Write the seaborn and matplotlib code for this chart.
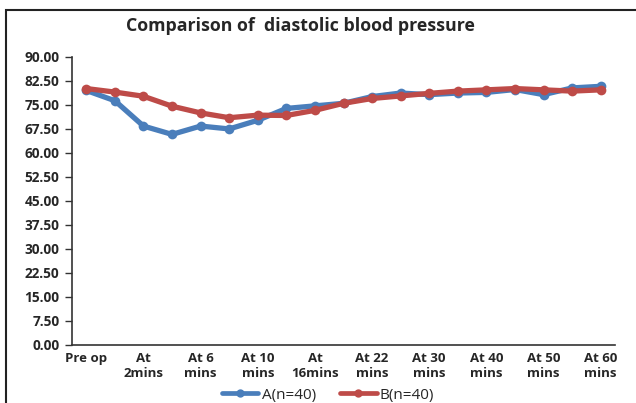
import matplotlib
matplotlib.use("Agg")
import matplotlib.pyplot as plt
import seaborn as sns
import pandas as pd
from matplotlib.patches import Rectangle
from matplotlib.lines import Line2D

categories = ["Pre op", "At 1min", "At 2mins", "At 4 mins", "At 6 mins", "At 8 mins",
              "At 10 mins", "At 13 mins", "At 16mins", "At 19 mins", "At 22 mins",
              "At 26 mins", "At 30 mins", "At 35 mins", "At 40 mins", "At 45 mins",
              "At 50 mins", "At 55 mins", "At 60 mins"]
tick_labels = ["Pre op", "", "At\n2mins", "", "At 6\nmins", "", "At 10\nmins", "",
               "At\n16mins", "", "At 22\nmins", "", "At 30\nmins", "", "At 40\nmins", "",
               "At 50\nmins", "", "At 60\nmins"]
group_a = [79.4, 76.2, 68.3, 65.7, 68.3, 67.4, 70.1, 73.8, 74.6, 75.4, 77.5, 78.6,
           78.1, 78.6, 78.8, 79.7, 78.1, 80.2, 80.7]
group_b = [80.0, 78.9, 77.6, 74.5, 72.4, 70.9, 71.7, 71.6, 73.2, 75.4, 76.9, 77.7,
           78.5, 79.2, 79.6, 80.0, 79.6, 79.2, 79.6]
series_names = ["A(n=40)", "B(n=40)"]
y_ticks = [0, 7.5, 15, 22.5, 30, 37.5, 45, 52.5, 60, 67.5, 75, 82.5, 90]

df = pd.DataFrame({
    "pos": list(range(len(categories))) * 2,
    "value": group_a + group_b,
    "group": [series_names[0]] * len(categories) + [series_names[1]] * len(categories),
})

sns.set_style("white")
plt.rcParams["font.family"] = ["Open Sans", "DejaVu Sans"]

fig = plt.figure(figsize=(6.36, 4.03), dpi=100)
ax = fig.add_axes([72 / 636, 1 - 345 / 403, (615 - 72) / 636, (345 - 56.5) / 403])

palette = {series_names[0]: "#4A7EBB", series_names[1]: "#BE4B48"}
sns.lineplot(data=df, x="pos", y="value", hue="group", palette=palette, ax=ax,
             marker="o", markersize=7, markeredgewidth=0, linewidth=3.8,
             legend=False)

ax.set_xlim(-0.5, len(categories) - 0.5)
ax.set_ylim(0, 90)
ax.set_yticks(y_ticks)
ax.set_yticklabels([f"{v:.2f}" for v in y_ticks], fontsize=9.8, fontweight="bold")
ax.set_xticks(range(len(categories)))
ax.set_xticklabels(tick_labels, fontsize=9.5, fontweight="bold", linespacing=1.25, va="top")
ax.set_xticks([i - 0.5 for i in range(len(categories) + 1)], minor=True)
ax.tick_params(axis="x", which="major", length=0, pad=5)
ax.tick_params(axis="x", which="minor", length=5, width=1, direction="out", color="#333333")
ax.tick_params(axis="y", which="major", length=5, width=1, direction="out", color="#333333", pad=4, left=True)
ax.set_xlabel("")
ax.set_ylabel("")
for s in ["top", "right"]:
    ax.spines[s].set_visible(False)
for s in ["left", "bottom"]:
    ax.spines[s].set_color("#333333")
    ax.spines[s].set_linewidth(1.2)
ax.grid(False)

fig.text(300 / 636, 1 - 26 / 403, "Comparison of  diastolic blood pressure",
         ha="center", va="center", fontsize=12.8, fontweight="bold")

# outer frame
fig.patches.append(Rectangle((6 / 636, -0.05), 1.2, 1 - 10 / 403 + 0.05,
                             transform=fig.transFigure, fill=False,
                             edgecolor="#222222", linewidth=1.5))

handles = [Line2D([0], [0], color=palette[n], lw=3.4, marker="o", markersize=6,
                  markeredgewidth=0) for n in series_names]
fig.legend(handles, series_names, loc="center", bbox_to_anchor=(328 / 636, 1 - 395 / 403),
           ncol=2, frameon=False, fontsize=11, handlelength=2.4, handletextpad=0.2,
           columnspacing=1.6, borderaxespad=0, borderpad=0)

fig.savefig("out.png", dpi=100)
